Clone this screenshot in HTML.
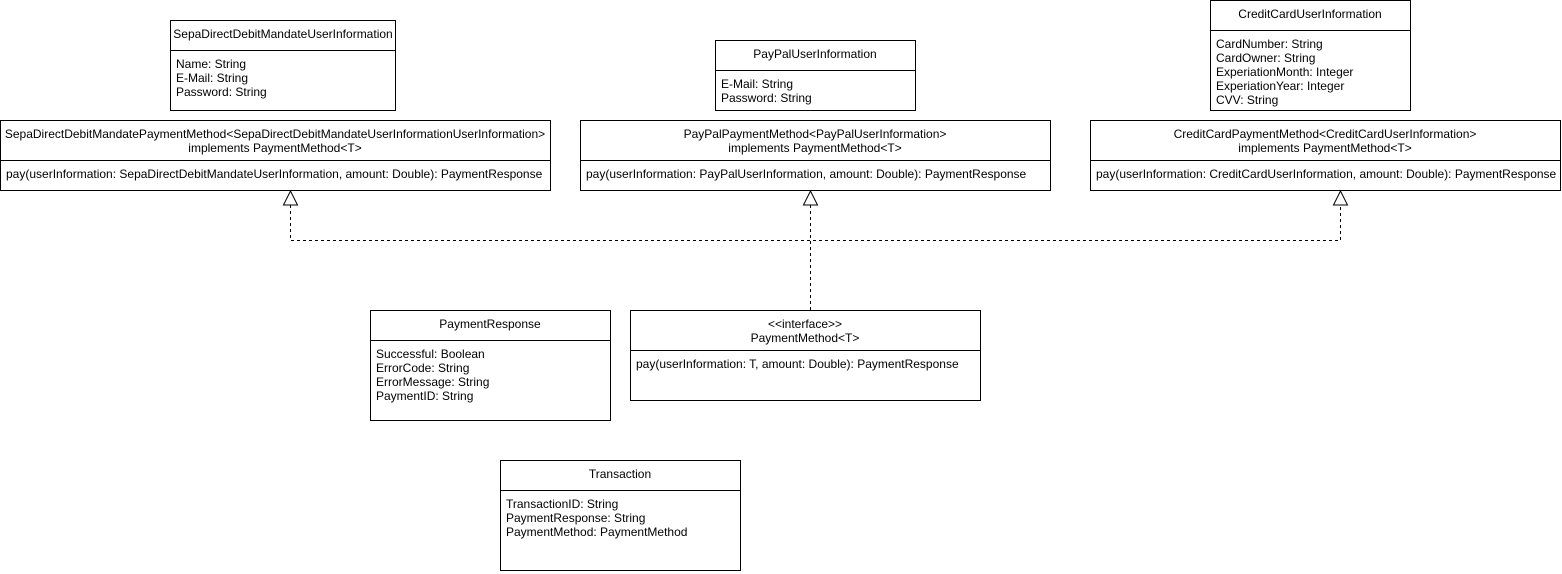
<!DOCTYPE html>
<html><head><meta charset="utf-8"><style>body{margin:0;background:#fff}svg{display:block}</style></head><body>
<svg width="1562" height="574" viewBox="0 0 1562 574" xmlns="http://www.w3.org/2000/svg" font-family="Liberation Sans, Arial, sans-serif" font-size="12" fill="#000">
<g fill="#fff" stroke="#000" stroke-width="1">
<rect x="170.5" y="20.5" width="225" height="90"/><line x1="170" y1="50.5" x2="396" y2="50.5"/>
<rect x="715.5" y="40.5" width="200" height="70"/><line x1="715" y1="70.5" x2="916" y2="70.5"/>
<rect x="1210.5" y="0.5" width="200" height="110"/><line x1="1210" y1="30.5" x2="1411" y2="30.5"/>
<rect x="0.5" y="120.5" width="550" height="70"/><line x1="0" y1="160.5" x2="551" y2="160.5"/>
<rect x="580.5" y="120.5" width="470" height="70"/><line x1="580" y1="160.5" x2="1051" y2="160.5"/>
<rect x="1090.5" y="120.5" width="470" height="70"/><line x1="1090" y1="160.5" x2="1561" y2="160.5"/>
<rect x="370.5" y="310.5" width="240" height="110"/><line x1="370" y1="340.5" x2="611" y2="340.5"/>
<rect x="630.5" y="310.5" width="350" height="90"/><line x1="630" y1="350.5" x2="981" y2="350.5"/>
<rect x="500.5" y="460.5" width="240" height="110"/><line x1="500" y1="490.5" x2="741" y2="490.5"/>
</g>
<g fill="none" stroke="#000" stroke-dasharray="3,3">
<polyline points="810.5,310 810.5,205"/>
<polyline points="290.5,205 290.5,240.5 1340.5,240.5 1340.5,205"/>
</g>
<g fill="#fff" stroke="#000">
<polygon points="290.5,191 283.5,205 297.5,205"/>
<polygon points="810.5,191 803.5,205 817.5,205"/>
<polygon points="1340.5,191 1333.5,205 1347.5,205"/>
</g>
<g text-anchor="middle">
<text x="283" y="38">SepaDirectDebitMandateUserInformation</text>
<text x="815" y="58">PayPalUserInformation</text>
<text x="1310" y="18">CreditCardUserInformation</text>
<text x="275" y="138">SepaDirectDebitMandatePaymentMethod&lt;SepaDirectDebitMandateUserInformationUserInformation&gt;</text>
<text x="275" y="152">implements PaymentMethod&lt;T&gt;</text>
<text x="815" y="138">PayPalPaymentMethod&lt;PayPalUserInformation&gt;</text>
<text x="815" y="152">implements PaymentMethod&lt;T&gt;</text>
<text x="1325" y="138">CreditCardPaymentMethod&lt;CreditCardUserInformation&gt;</text>
<text x="1325" y="152">implements PaymentMethod&lt;T&gt;</text>
<text x="490" y="328">PaymentResponse</text>
<text x="805" y="328">&lt;&lt;interface&gt;&gt;</text>
<text x="805" y="342">PaymentMethod&lt;T&gt;</text>
<text x="620" y="478">Transaction</text>
</g>
<text x="176" y="68">Name: String</text><text x="176" y="82">E-Mail: String</text><text x="176" y="96">Password: String</text>
<text x="721" y="88">E-Mail: String</text><text x="721" y="102">Password: String</text>
<text x="1216" y="48">CardNumber: String</text><text x="1216" y="62">CardOwner: String</text><text x="1216" y="76">ExperiationMonth: Integer</text><text x="1216" y="90">ExperiationYear: Integer</text><text x="1216" y="104">CVV: String</text>
<text x="6" y="178">pay(userInformation: SepaDirectDebitMandateUserInformation, amount: Double): PaymentResponse</text>
<text x="586" y="178">pay(userInformation: PayPalUserInformation, amount: Double): PaymentResponse</text>
<text x="1096" y="178">pay(userInformation: CreditCardUserInformation, amount: Double): PaymentResponse</text>
<text x="376" y="358">Successful: Boolean</text><text x="376" y="372">ErrorCode: String</text><text x="376" y="386">ErrorMessage: String</text><text x="376" y="400">PaymentID: String</text>
<text x="636" y="368">pay(userInformation: T, amount: Double): PaymentResponse</text>
<text x="506" y="508">TransactionID: String</text><text x="506" y="522">PaymentResponse: String</text><text x="506" y="536">PaymentMethod: PaymentMethod</text>
</svg>
</body></html>
